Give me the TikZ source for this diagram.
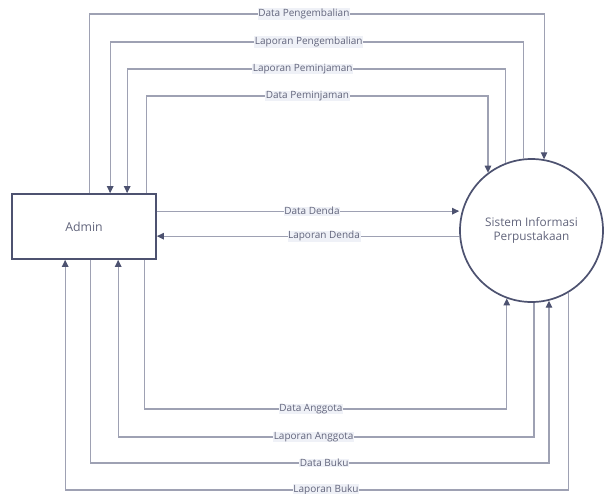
\documentclass[tikz,border=0pt]{standalone}
\usepackage{fontspec}
\setmainfont{Open Sans}
\usetikzlibrary{arrows.meta}
\definecolor{linec}{HTML}{9EA1B3}
\definecolor{arrc}{HTML}{4D5270}
\definecolor{txtc}{HTML}{62657C}
\definecolor{lblbg}{HTML}{EFF1F7}
\definecolor{nodeb}{HTML}{4D5270}
\tikzset{
  flow/.style={draw=linec, line width=1.1pt, -{Triangle[width=6.5pt,length=7pt,color=arrc]}},
  lbl/.style={fill=lblbg, text=txtc, font=\fontsize{10}{11}\selectfont, inner sep=0.6pt},
  entity/.style={draw=nodeb, line width=1.7pt, minimum width=144pt, minimum height=65pt, inner sep=0pt, text=txtc, font=\fontsize{12.3}{14}\selectfont},
  process/.style={circle, draw=nodeb, line width=1.7pt, minimum size=143pt, inner sep=0pt, text=txtc, align=center, font=\fontsize{11.8}{14}\selectfont}
}
\begin{document}
\begin{tikzpicture}[x=1pt,y=-1pt]
\useasboundingbox[fill=white] (0,0) rectangle (604,493);
\node[entity] (admin) at (84,226.5) {Admin};
\node[process] (sys) at (531.5,230.5) {Sistem Informasi\\Perpustakaan};
% rows
\coordinate (r1) at (0,14);
\coordinate (r2) at (0,42);
\coordinate (r3) at (0,69);
\coordinate (r4) at (0,96);
\coordinate (b1) at (0,409);
\coordinate (b2) at (0,437);
\coordinate (b3) at (0,463);
\coordinate (b4) at (0,490);
% admin ports
\coordinate (at1) at ([xshift=78pt]admin.north west);
\coordinate (at2) at ([xshift=99pt]admin.north west);
\coordinate (at3) at ([xshift=116pt]admin.north west);
\coordinate (at4) at ([xshift=135pt]admin.north west);
\coordinate (ab1) at ([xshift=133pt]admin.south west);
\coordinate (ab2) at ([xshift=107pt]admin.south west);
\coordinate (ab3) at ([xshift=79pt]admin.south west);
\coordinate (ab4) at ([xshift=54pt]admin.south west);
\coordinate (ar1) at ([yshift=-18pt]admin.north east);
\coordinate (ar2) at ([yshift=-43pt]admin.north east);
% top flows
\draw[flow] (at1) -- (at1 |- r1) -| node[lbl,pos=0.236]{Data Pengembalian} (sys.80.7);
\draw[flow] (sys.96.8) -- (sys.96.8 |- r2) -| node[lbl,pos=0.26]{Laporan Pengembalian} (at2);
\draw[flow] (sys.111.8) -- (sys.111.8 |- r3) -| node[lbl,pos=0.268]{Laporan Peminjaman} (at3);
\draw[flow] (at4) -- (at4 |- r4) -| node[lbl,pos=0.236]{Data Peminjaman} (sys.127.5);
% middle flows
\draw[flow] (ar1) -- node[lbl,pos=0.513]{Data Denda} (ar1 -| sys.west);
\draw[flow] (ar2 -| sys.west) -- node[lbl,pos=0.447]{Laporan Denda} (ar2);
% bottom flows
\draw[flow] (ab1) -- (ab1 |- b1) -| node[lbl,pos=0.23]{Data Anggota} (sys.-110.9);
\draw[flow] (sys.-88.8) -- (sys.-88.8 |- b2) -| node[lbl,pos=0.265]{Laporan Anggota} (ab2);
\draw[flow] (ab3) -- (ab3 |- b3) -| node[lbl,pos=0.255]{Data Buku} (sys.-76.7);
\draw[flow] (sys.-59.3) -- (sys.-59.3 |- b4) -| node[lbl,pos=0.241]{Laporan Buku} (ab4);
\end{tikzpicture}
\end{document}
